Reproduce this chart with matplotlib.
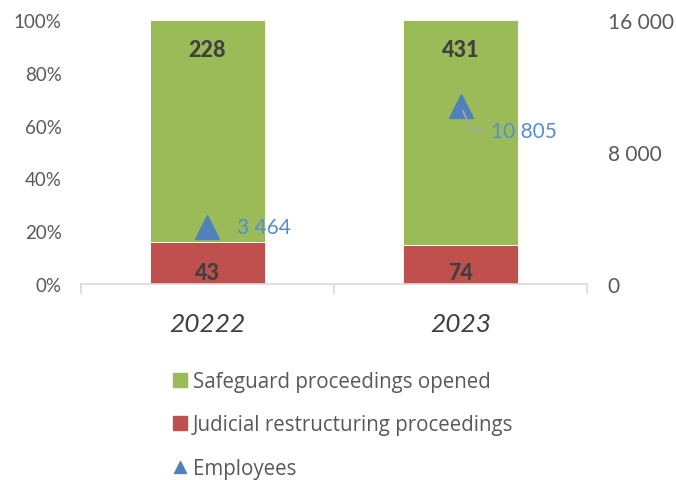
import numpy as np
import matplotlib.pyplot as plt
from matplotlib.lines import Line2D
from matplotlib.patches import Patch

plt.rcParams['font.family'] = ['Lato', 'DejaVu Sans']

# data
years = ['20222', '2023']
safeguard = np.array([228, 431])
judicial = np.array([43, 74])
employees = np.array([3464, 10805])

green = '#9BBB59'
red = '#C0504D'
blue = '#4F81BD'
label_blue = '#558ED5'
grey_txt = '#595959'
dark = '#404040'

total = safeguard + judicial
pct_jud = judicial / total * 100
pct_saf = safeguard / total * 100

fig = plt.figure(figsize=(6.76, 4.81), dpi=100)
ax = fig.add_axes([0.1198, 0.4075, 0.7486, 0.5488])
x = np.arange(len(years))

ax.bar(x, pct_jud, width=0.455, color=red, edgecolor='white', linewidth=0.6)
ax.bar(x, pct_saf, bottom=pct_jud, width=0.455, color=green, edgecolor='white', linewidth=0.6)

for i in range(len(years)):
    ax.annotate(str(safeguard[i]), (x[i], 100), xytext=(0, -21), textcoords='offset points',
                ha='center', va='center', fontsize=15.5, fontweight='black', color=dark)
    ax.annotate(str(judicial[i]), (x[i], 0), xytext=(0, 8.5), textcoords='offset points',
                ha='center', va='center', fontsize=15.5, fontweight='black', color=dark)

ax.set_xlim(-0.5, 1.5)
ax.set_ylim(0, 100)
ax.set_yticks([0, 20, 40, 60, 80, 100])
ax.set_yticklabels([f'{v}%' for v in [0, 20, 40, 60, 80, 100]])
ax.set_xticks(x)
ax.set_xticklabels(years, fontsize=19, style='italic', color='#404040')
ax.set_xticks([-0.5, 0.5, 1.5], minor=True)
ax.tick_params(axis='x', which='major', length=0, pad=20)
ax.tick_params(axis='x', which='minor', length=7, color='#D9D9D9', width=1.2)
ax.tick_params(axis='y', length=0, labelsize=13.5, labelcolor=grey_txt, pad=14)
for s in ['top', 'right', 'left']:
    ax.spines[s].set_visible(False)
ax.spines['bottom'].set_color('#D9D9D9')
ax.spines['bottom'].set_linewidth(1.2)

ax2 = ax.twinx()
ax2.set_ylim(0, 16000)
ax2.set_yticks([0, 8000, 16000])
ax2.set_yticklabels([f'{v:,}'.replace(',', ' ') for v in [0, 8000, 16000]])
ax2.tick_params(axis='y', length=0, labelsize=15, labelcolor=grey_txt, pad=15)
for s in ax2.spines.values():
    s.set_visible(False)

ax2.plot(x, employees, linestyle='none', marker='^', markersize=17, color=blue)
ax2.annotate(f'{employees[0]:,}'.replace(',', ' '), (x[0], employees[0]), xytext=(21, 0),
             textcoords='offset points', ha='left', va='center', fontsize=15, color=label_blue)
ax2.annotate(f'{employees[1]:,}'.replace(',', ' '), (x[1], employees[1]), xytext=(22, -18),
             textcoords='offset points', ha='left', va='center', fontsize=15, color=label_blue,
             arrowprops=dict(arrowstyle='-', color='#A6A6A6', lw=1.3, shrinkA=2, shrinkB=4,
                             relpos=(0, 0.5),
                             connectionstyle='angle,angleA=0,angleB=-65,rad=0'))

handles = [Patch(color=green, label='Safeguard proceedings opened'),
           Patch(color=red, label='Judicial restructuring proceedings'),
           Line2D([], [], linestyle='none', marker='^', color=blue, markersize=9, label='Employees')]
fig.legend(handles=handles, loc='upper left', bbox_to_anchor=(0.235, 0.256), frameon=False,
           prop={'family': 'Open Sans', 'size': 14.8}, labelcolor=grey_txt,
           handlelength=0.65, handleheight=0.65, handletextpad=0.3, labelspacing=1.08,
           borderaxespad=0.3)

fig.savefig('out.png', dpi=100)
